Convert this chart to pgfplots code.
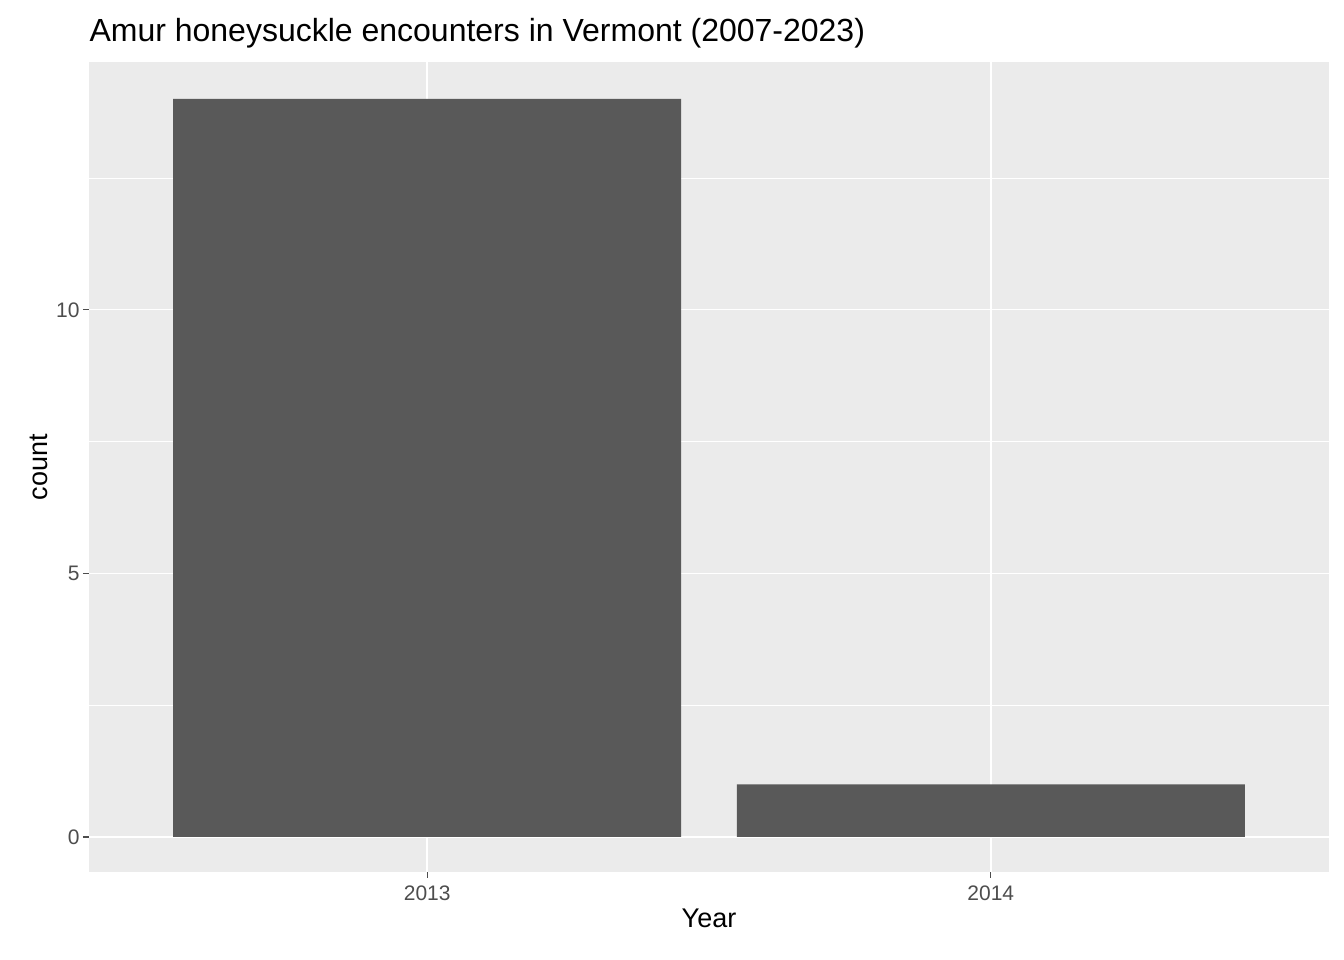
\documentclass[border=0pt]{standalone}
\usepackage{pgfplots}
\pgfplotsset{compat=1.18}
\usepackage{fontspec}
\setmainfont{Liberation Sans}
\definecolor{panel}{HTML}{EBEBEB}
\definecolor{barc}{HTML}{595959}
\definecolor{tickc}{HTML}{4D4D4D}
\begin{document}
\begin{tikzpicture}
\path (-89bp,-88bp) rectangle (1255bp,872bp);
\begin{axis}[
  at={(0,0)}, anchor=south west, scale only axis,
  width=1240bp, height=810bp,
  xmin=-0.6, xmax=1.6, ymin=-0.664, ymax=14.7,
  axis background/.style={fill=panel},
  axis line style={draw=none},
  xtick={0,1}, xticklabels={2013,2014},
  ytick={0,5,10}, minor ytick={2.5,7.5,12.5},
  grid=both,
  major grid style={white, line width=1.4bp},
  minor grid style={white, line width=0.7bp},
  tick style={tickc, line width=1.1bp},
  major tick length=6bp, minor tick length=0pt,
  tick align=outside, xtick pos=bottom, ytick pos=left,
  ticklabel style={font=\fontsize{21bp}{24bp}\selectfont, text=tickc},
  xticklabel style={yshift=-4bp},
  /pgf/number format/assume math mode=true,
  xlabel={Year}, ylabel={count},
  label style={font=\fontsize{27bp}{30bp}\selectfont},
  xlabel style={yshift=-2bp},
  ylabel style={yshift=2bp},
  title={Amur honeysuckle encounters in Vermont (2007-2023)},
  title style={font=\fontsize{32bp}{36bp}\selectfont, anchor=south west, at={(0,1)}, xshift=-3bp, yshift=4bp},
]
\addplot[ybar, bar width=508bp, fill=barc, draw=none] coordinates {(0,14) (1,1)};
\end{axis}
\end{tikzpicture}
\end{document}
